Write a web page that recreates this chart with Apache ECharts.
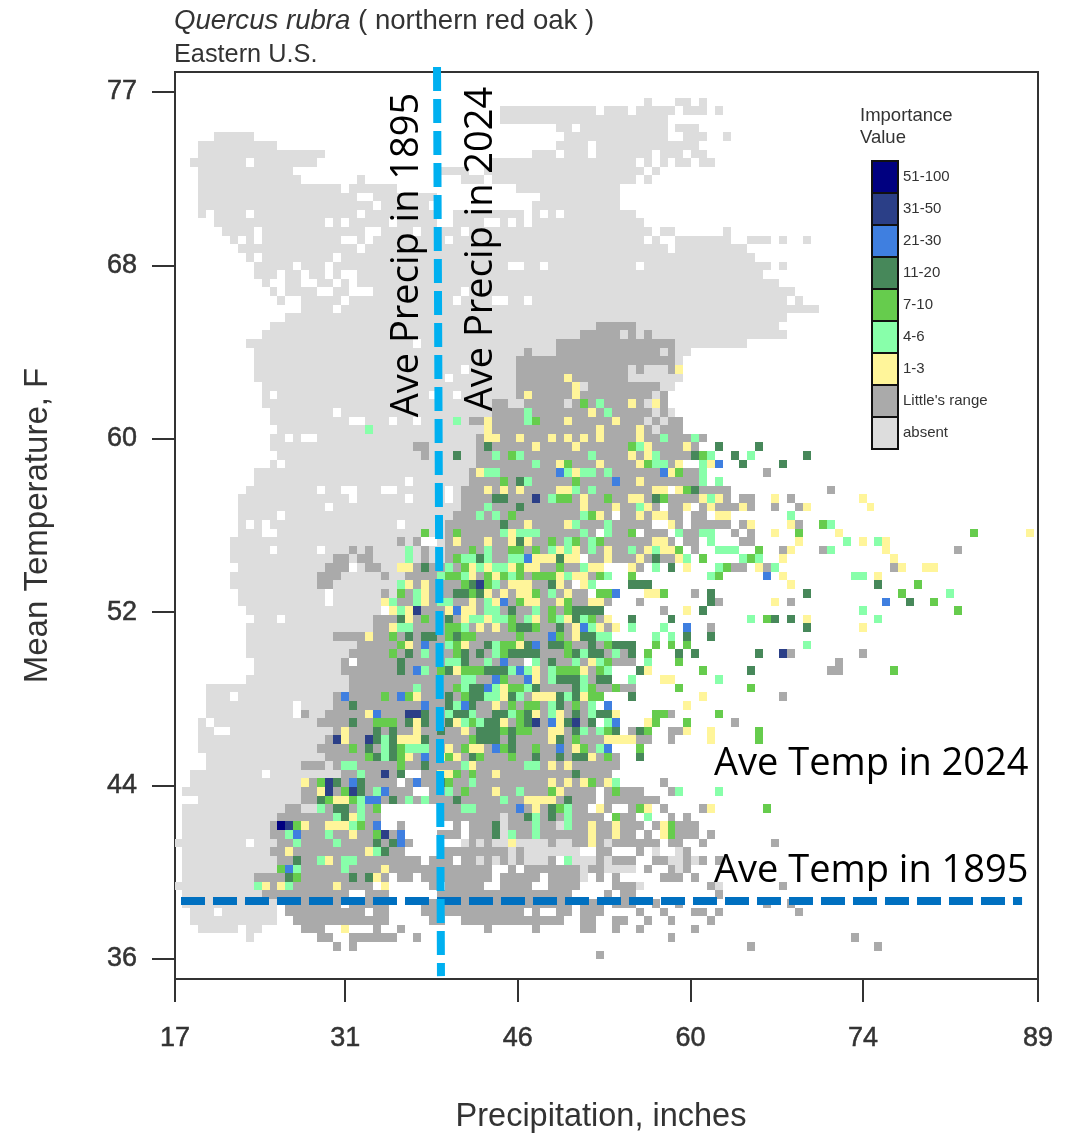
<!DOCTYPE html>
<html><head><meta charset="utf-8">
<style>html,body{margin:0;padding:0;background:#fff}#c{width:1079px;height:1137px}</style>
<script src="https://cdn.jsdelivr.net/npm/echarts@6/dist/echarts.min.js"></script>
</head><body><div id="c"></div>
<script>
// Axis ticks (true positions on an evenly spaced scale) and their printed labels
const xTicks=[17,31.2,45.6,60,74.4,89];
const xLabels=['17','31','46','60','74','89'];
const yTicks=[36,44.2,52.4,60.6,68.8,77];
const yLabels=['36','44','52','60','68','77'];
// Bins of the climate grid: column -> precipitation, row -> temperature
const precipStart=16.917, precipBin=0.6641, tempTop=77.946, tempBin=0.4074;

// [row, from,to, from,to, ...] column runs
const absentRuns=[
[3,59,59,63,64,66,66],[4,41,52,54,56,58,62,64,66,68,68],[5,41,61],[6,48,49,51,61,63,65],
[7,5,9,49,61,64,66,69,69],[8,3,12,48,51,53,65],[9,3,18,45,47,49,51,53,59,61,63,65,66],
[10,2,8,10,17,40,57,59,59,61,61,63,64,66,67],[11,3,14,33,36,39,58,60,60],[12,3,15,23,23,36,38,40,57,59,59],
[13,3,20,22,27,43,55],[14,3,22,25,32,46,55],[15,3,24,26,31,45,55],
[16,3,3,5,8,10,22,24,32,35,43,45,45,47,47,49,57],[17,5,18,20,20,22,26,28,32,35,38,41,41,43,43,45,58],
[18,6,9,11,23,26,29,31,35,37,59,61,62,69,69],[19,7,7,9,9,11,20,23,23,25,33,35,58,60,60,63,69,72,74,76,76,79,79],
[20,8,22,24,61,63,71],[21,9,9,11,19,21,72],[22,10,14,16,18,20,41,44,45,47,57,59,74,76,76],
[23,10,12,14,15,17,18,20,20,23,73],[24,11,11,14,15,18,19,21,21,23,75],[25,12,12,14,17,20,21,25,35,37,77],
[26,13,13,16,20,22,34,36,39,42,43,45,76,78,78],[27,16,19,21,80],[28,14,76],[29,12,52,58,75],
[30,11,50,56,56,58,58,60,76],[31,9,29,31,47,63,71],[32,10,43,45,47,61,61,63,64],[33,10,42,63,63],
[34,10,35,37,42,57,57,59,61],[35,10,33,35,42,57,63],[36,11,42,51,51,61,62],[37,11,11,13,31,33,34,36,42,60,60],
[38,11,39,42,43,49,49,59,59],[39,12,19,21,39,60,60,62,62],[40,12,21,24,26,28,29,31,36,59,59,61,61],[41,13,38,60,60],
[42,12,13,15,15,18,37],[43,12,29,32,37],[44,13,30,32,37],[45,12,12,14,37],[46,10,36],[47,10,28,30,36],
[48,9,17,19,20,23,25,28,33,35,35],[49,8,21,23,28,30,33,35,35],[50,8,18,20,35],[51,8,12,14,34],
[52,8,8,10,10,12,27,29,33],[53,8,10,13,33],[54,7,27,29,29,33,33],[55,7,11,13,17,19,21,23,23,25,30,32,33],
[56,7,19,22,22,25,30,32,33],[57,8,18,23,23,26,27],[58,7,17,21,25,27,28],[59,7,17,20,27],[60,8,18,20,25,27,27],
[61,8,18,20,25],[62,9,25],[63,10,12,14,24],[64,9,24],[65,9,19],[66,9,22],[67,9,21],[68,10,20],[69,10,20],[70,9,21],
[71,4,21],[72,4,6,8,19],[73,4,14,16,19],[74,4,14,17,18],[75,3,3,5,17],[76,3,4,7,19],[77,3,18],[78,3,17],[79,4,18],
[80,4,15,19,19],[81,2,10,12,20],[82,2,15],[83,1,15],[84,3,15],[85,1,13,16,17],[86,1,13,41,41],[87,1,11,41,41,48,48],
[88,1,11,40,41],[89,0,8,10,12,36,36,38,38,40,41,43,46,48,49,52,52,54,54],[90,1,11,42,42,44,50,60,60,63,63],
[91,1,12,38,38,40,40,42,42,44,46,50,52,54,54,62,63,65,65],[92,1,12,51,51,54,57,63,63],[93,1,9,51,51],
[94,0,9,58,58,68,68],[95,1,10],[96,1,12],[97,2,4,6,12],[98,2,12],[99,3,7,9,10],[100,9,9]];

const rangeRuns=[
[29,53,57],[30,51,55,57,57,59,59],[31,48,62],[32,44,44,48,60,62,62],[33,43,62],[34,43,56,58,58,62,62],[35,43,56],
[36,43,50,52,60],[37,43,59,61,61],[38,40,41,44,48,50,58,61,61],[39,40,59,61,61],[40,37,38,40,58,60,60,62,63],
[41,40,59,61,63],[42,38,38,41,66],[43,30,31,38,38,40,65],[44,31,31,38,66],[45,38,62],[46,37,65,74,74],[47,37,65],
[48,36,61,63,69,82,82],[49,36,69,71,72,77,77],[50,36,60,62,64,66,70,72,72,75,75,78,78],[51,35,54,56,63,65,66],
[52,34,59,62,63,65,69,71,71,78,78],[53,34,52,54,57,59,61,63,65,70,70,72,72],[54,28,28,30,30,34,62,64,65,71,72],
[55,22,22,24,24,31,31,34,63,65,65,76,76,81,81,98,98],[56,20,21,23,24,31,31,34,50,52,64],
[57,19,21,24,25,30,53,57,58,70,71,74,74,90,90],[58,18,20,26,26,29,54],[59,18,19,29,49,51,52],
[60,26,26,28,51,53,55,65,65],[61,28,54,58,58,68,68,77,77],[62,27,53,61,61],[63,25,53],[64,25,54,67,67],[65,20,54],
[66,23,57],[67,22,57,77,77,86,86],[68,21,21,23,43,45,57,83,83],[69,21,54,82,83],[70,22,54],[71,22,57],
[72,20,53,57,57,76,76],[73,20,52],[74,16,16,19,54,62,62],[75,18,52,54,55,70,70],[76,20,55,57,59,62,63],
[77,19,53,58,59,62,62],[78,18,54,58,58],[79,19,55],[80,16,18,20,55],[81,21,28,31,54],[82,16,27,29,54,61,61],
[83,16,29,32,52,54,58,62,62],[84,16,52,54,60],[85,14,15,18,25,33,51,54,54,57,59,61,61,66,66],
[86,13,25,33,40,42,53,56,57,62,62,64,64],[87,12,25,28,28,35,35,37,39,42,47,50,51,53,54,56,58,60,60,63,65],
[88,12,28,33,35,37,39,43,51,53,57,59,59,61,61,63,65,67,67],[89,13,29,37,37,39,39,47,47,50,51,53,53,55,60,62,63,66,66,75,75],
[90,12,28,33,41,43,43,53,54,58,58,64,64],[91,13,30,32,34,36,37,39,39,41,41,43,43,47,47,53,53,55,57,60,61,64,64,66,66,68,68],
[92,13,39,42,42,44,50,52,53,59,59,62,62,64,64],[93,10,26,28,29,31,39,41,45,47,50,53,53,55,55,61,63,65,65],
[94,10,24,32,32,34,38,41,44,47,50,55,57,67,67,76,76],[95,11,21,24,26,33,49,54,54,56,57,68,68],
[96,14,20,22,26,31,49,51,53,55,57,60,60,63,63,74,74,77,77],[97,14,23,25,26,31,43,45,45,48,49,51,53,58,58,61,61,65,66,68,68,78,78],
[98,15,26,32,33,36,48,51,52,55,56,59,59,62,62,67,67],[99,16,18,25,25,28,28,39,39,45,45,51,52,55,55,58,58,65,65],
[100,18,19,22,27,30,30,62,62,85,85],[101,20,20,22,22,72,72,88,88],[102,53,53]];

// Importance-value classes: [row, column, column, ...]
const iv1to3=[[34,63],[35,49],[36,50],[37,50,44],[38,57,60],[39,52],[40,49,55,39],[41,39,53,58],[42,39,40,43,47,49,51,53,58],
[43,45,50,59,64],[44,57,59],[45,48,53,58,63,67],[46,38,62,50],[47,58],[48,39,41,43,48,49,60,61,63],[49,51,57,58,66,68,75,86],
[50,51,55,59,64,67,71,79,87],[51,53,58,60,61,68,69],[52,44,49,62,72,77],[53,42,75,83,107],[54,39,42,44,60,61,35,78,86,89],
[55,48,50,54,59,61,62,77,89],[56,45,46,47,49,50,54,58,63,76,90],[57,37,39,42,44,45,52,53,57,64,73,28,29,91,94,95],
[58,37,40,48,50,51,76,88],[59,42,43,44,48,51,29,31,77],[60,39,41,43,44,49,59,60,31],[61,37,40,44,45,48,52,53,26,31,75],
[62,37,64,27,29,34,36],[63,39,45,49,54,29,36,79],[64,38,40,50,53,55,27,86],[65,50,24],[66,43,29,36],[68,52],[69,45,51,59,35],
[70,45,61,62],[71,41],[72,41,45,46,47,51,66,30],[73,40,64],[74,45,48,55,24],[75,41,48,59,30,35],[76,47,48,64,67,21,30,36],
[77,47,54,55,56,57,67,21,28,29,30],[78,37,38,50,34],[79,52,29,33,35],[80,37,47,49],[81,40,33,34],[82,47,49,51,54,16],
[83,40,48,18],[84,44,45,46,47,20,21],[85,45,53,59,67],[86,22,23],[87,52,55,61,16,19,20,21],[88,52,55,61,22],[89,42,52],
[90,14,24],[91,19],[92,26],[93,25],[94,11,13,20,26],[99,21]];
const iv4to6=[[38,53],[39,44,54],[40,44,35],[41,24],[42,61,65],[43,58],[44,40,43,52,60,67,72],[45,45,60,61,66],
[46,39,40,49,51,52,54,66],[47,44,66,68],[48,50,52],[49,47,67],[50,39,58],[51,38,40,51,77],[52,50,54,82],
[53,41,43,44,45,51,54,63,66,67],[54,49,52,67,84,88],[55,39,47,49,52,57,60,68,69,70,29,82],[56,37,39,42,43,64,71,73,29,36],
[57,38,40,41,51,60,68,34,75],[58,42,49,54,67,33,36,85,86],[59,40,52,28],[60,47,30,97],[61,39,27,30,33,34],[62,39,40,45,28,86],
[63,37,38,40,41,44,48,51,72,88],[64,52,57,61,28,29,36],[65,53,54,60,62],[66,40,34,79],[67,40,51,55,31],[68,39,45,50,53,59,34,35],
[69,42,44,47,54,31],[70,37,47,51,57,68,36],[71,40,44,51,30,36],[72,39,40,43,49],[73,47,52,35],[74,37,42,47,52,34],[75,38,54,36],
[76,51,53],[77,26],[78,53,26,29,30,31],[79,26],[80,44,45,21,22,36],[81,23],[82,37,55],[83,43,63,68,25,34],[84,41,23,29,31],
[85,37,49,18,23,36],[86,45,49,59,20,23],[87,45,49,22],[88,42,45,14,19],[89,15,20],[90,25],[91,49,18,21,22],[92,15,21],[94,10,14]];
const iv7to10=[[38,51],[40,45],[43,57],[44,42,66],[45,49,59],[46,63],[47,41,50],[48,64],[49,48,49,54,61],[51,42,52],[52,81],
[53,57,78,100,31,35],[54,47,50,53],[55,37,42,43,45,63,73],[56,66,72,35],[57,43,48,69,36],[58,39,41,43,45,46,47,53,57,68,34,35],
[59,39,36,93],[60,37,45,53,54,61,28,91],[61,43,49,95],[62,47,49,98],[63,42,47,52,74,31],[64,42,45,34,35],[65,37,43,48,27,34,36],
[66,41,42,49,54,60,62,64,28,35],[67,41,49,59,27,35],[68,54,63],[69,37,38,48,49,50,53,66,33,36,90],[70,41],[71,42,43,52,55,63,72,35],
[72,52,53,26,29,36],[73,42,44,45,50],[74,43,68,60,61],[75,37,43,60,64,25,26,27],[76,41,43,44,54,59,73],[77,37,50,73],
[78,41,45,51,58,22,28,36],[79,38,42,54,24,28,34],[80,28],[81,37,35],[82,52,18,34],[83,47,55,21,36],[84,19,22],[85,48,58,74,25],
[86,55],[87,62,15,23],[88,62,25],[92,13],[93,15]];
const iv11to20=[[43,39,68,73],[44,65,70,35,79],[45,71,76],[47,43],[48,65],[49,40,41,60],[50,43],[52,41],[54,43],[56,38,48,60],
[57,62,31],[59,37,47,57,58,59,88],[60,38,67,35,36,79],[61,67,92],[62,42,50,51,52,53,66],[63,50,57,62,28,34,75,77],[64,43,44,48,79],
[65,51,52,64,67,29,31,32,35],[66,39,44,47,48,52,55,56,57],[67,38,42,43,44,45,50,52,53,57,63,65,73,29,36],[68,47,28,36],
[69,39,40,41,58,72,28,34],[70,48,49,50,53,54],[71,37,38,45,50],[72,37,38,42,48,50,57,34],[73,37,22,34,48],[74,40,41,44,50,53,54,31,35,36],
[75,39,40,44,49,52,22,29,31,34],[76,38,39,40,42,50,55,58,25,27,33],[77,38,39,40,42,48,25,27,31],[78,42,24,27],[79,37,45,48,50,51,58,25,27],
[80,31],[81,50,28],[82,20,23,33],[83,23],[84,49,18,27,35],[85,47,20,21],[86,44,47,21],[87,40],[88,40],[89,25,27],[90,26],[91,15],[93,14,22,24]];
const iv21to30=[[45,68],[46,48,61],[47,55],[56,44],[58,74],[60,55],[61,41,89],[62,35],[64,51,64],[65,47],[66,45,31],[68,41],[69,43,30],
[70,40,44],[71,39],[72,21,28],[73,54,31,36],[74,25],[75,47,55],[78,40,48,54],[79,31],[82,22,30],[83,26],[84,24,25],[85,43],[87,25],[88,15,28],[89,28],[92,14]];
const iv31to50=[[49,45],[59,38],[62,30],[67,76],[74,29,30],[75,45,50],[77,20,24],[81,26],[82,19],[83,19,22],[87,14],[88,26]];
const iv51to100=[[87,13]];

const legendLabels=['51-100','31-50','21-30','11-20','7-10','4-6','1-3',"Little's range",'absent'];
const legendColors=['#000080','#2b3f87','#3f7fe0','#47885a','#66cc4d','#88ffaa','#fff59a','#aaaaaa','#dddddd'];

function binX(col){return precipStart+col*precipBin}
function binY(row){return tempTop-row*tempBin}
function fromRuns(runs){const out=[];runs.forEach(r=>{for(let i=1;i<r.length;i+=2)out.push([binX(r[i]),binX(r[i+1]+1),binY(r[0]),binY(r[0]+1)])});return out}
function fromCells(rows){const out=[];rows.forEach(r=>{for(let i=1;i<r.length;i++)out.push([binX(r[i]),binX(r[i]+1),binY(r[0]),binY(r[0]+1)])});return out}
function renderCell(params,api){
  const a=api.coord([api.value(0),api.value(2)]),b=api.coord([api.value(1),api.value(3)]);
  const x=Math.round(a[0]),y=Math.round(a[1]);
  return {type:'rect',shape:{x:x,y:y,width:Math.round(b[0])-x,height:Math.round(b[1])-y},style:{fill:api.visual('color')}};
}
function cellSeries(name,data,color,z){
  return {type:'custom',name,data,renderItem:renderCell,itemStyle:{color},encode:{x:[0,1],y:[2,3]},z,silent:true,clip:true,animation:false};
}
const series=[
  cellSeries('absent',fromRuns(absentRuns),legendColors[8],2),
  cellSeries("Little's range",fromRuns(rangeRuns),legendColors[7],3),
  cellSeries('1-3',fromCells(iv1to3),legendColors[6],4),
  cellSeries('4-6',fromCells(iv4to6),legendColors[5],4),
  cellSeries('7-10',fromCells(iv7to10),legendColors[4],4),
  cellSeries('11-20',fromCells(iv11to20),legendColors[3],4),
  cellSeries('21-30',fromCells(iv21to30),legendColors[2],4),
  cellSeries('31-50',fromCells(iv31to50),legendColors[1],4),
  cellSeries('51-100',fromCells(iv51to100),legendColors[0],4),
  {type:'line',name:'Ave Precip',data:[[38.86,78.18],[39.19,35.19]],showSymbol:false,clip:false,z:9,animation:false,silent:true,
   lineStyle:{color:'#00b0f0',width:8,type:[24,8]}},
  {type:'line',name:'Ave Temp',data:[[17.5,38.74],[87.67,38.74]],showSymbol:false,clip:false,z:8,animation:false,silent:true,
   lineStyle:{color:'#0070c0',width:8,type:[24,8]}}
];
const sans='"Liberation Sans",Arial,sans-serif', callout='"Open Sans",sans-serif', ink='#333';
const heavy={textBorderColor:ink,textBorderWidth:0.5};
const graphic=[];
function txt(x,y,text,size,font,fill,extra){graphic.push(Object.assign({type:'text',x,y,z:20,silent:true,
  style:{text,fontSize:size,fontFamily:font,fill,textVerticalAlign:'middle',textAlign:'left'}},extra||{}))}
txt(860,116,'Importance',18.5,sans,ink);
txt(860,138,'Value',18.5,sans,ink);
legendColors.forEach((c,i)=>{
  graphic.push({type:'rect',z:20,silent:true,shape:{x:872,y:161+i*32,width:26,height:32},style:{fill:c,stroke:'#111',lineWidth:2}});
  txt(903,177+i*32,legendLabels[i],15,sans,ink);
});
[['Ave Precip in 1895',407,255],['Ave Precip in 2024',481,249]].forEach(t=>{
  graphic.push({type:'text',x:t[1],y:t[2],rotation:Math.PI/2,z:20,silent:true,
    style:{text:t[0],fontSize:38,fontFamily:callout,fill:'#000',textAlign:'center',textVerticalAlign:'middle'}});
});
txt(714,764,'Ave Temp in 2024',38,callout,'#000');
txt(714,871,'Ave Temp in 1895',38,callout,'#000');

const chart=echarts.init(document.getElementById('c'),null,{renderer:'canvas'});
chart.setOption({
  animation:false,backgroundColor:'#fff',
  title:[
    {left:169,top:2,text:'{i|Quercus rubra} ( northern red oak )',
     textStyle:{fontFamily:sans,fontSize:27.6,fontWeight:'normal',color:ink,rich:{i:{fontStyle:'italic',fontFamily:sans,fontSize:27.6,color:ink}}}},
    {left:169,top:38,text:'Eastern U.S.',textStyle:{fontFamily:sans,fontSize:25.3,fontWeight:'normal',color:ink}}
  ],
  grid:{left:175,right:41,top:72,bottom:158,show:true,borderColor:'#333',borderWidth:2,backgroundColor:'#fff',z:1,outerBoundsMode:'none'},
  xAxis:{type:'value',min:17,max:89,name:'Precipitation, inches',nameLocation:'middle',nameGap:122,
    nameTextStyle:Object.assign({fontFamily:sans,fontSize:32.5,color:ink,padding:[0,11,0,0]}),
    splitLine:{show:false},axisLine:{show:true,onZero:false,lineStyle:{color:'#333',width:2}},
    axisTick:{show:true,length:23,customValues:xTicks,lineStyle:{color:'#333',width:2}},
    axisLabel:Object.assign({customValues:xTicks,margin:46,fontFamily:sans,fontSize:27,color:ink,showMinLabel:true,showMaxLabel:true,hideOverlap:false,
      formatter:v=>xLabels[xTicks.indexOf(v)]},heavy)},
  yAxis:{type:'value',min:35.054,max:77.946,name:'Mean Temperature, F',nameLocation:'middle',nameRotate:90,nameGap:121,
    nameTextStyle:{fontFamily:sans,fontSize:33,color:ink},
    splitLine:{show:false},axisLine:{show:true,onZero:false,lineStyle:{color:'#333',width:2}},
    axisTick:{show:true,length:23,customValues:yTicks,lineStyle:{color:'#333',width:2}},
    axisLabel:Object.assign({customValues:yTicks,margin:38,fontFamily:sans,fontSize:27,color:ink,hideOverlap:false,
      formatter:v=>yLabels[yTicks.indexOf(v)]},heavy)},
  graphic:{elements:graphic},
  series
});
</script></body></html>
